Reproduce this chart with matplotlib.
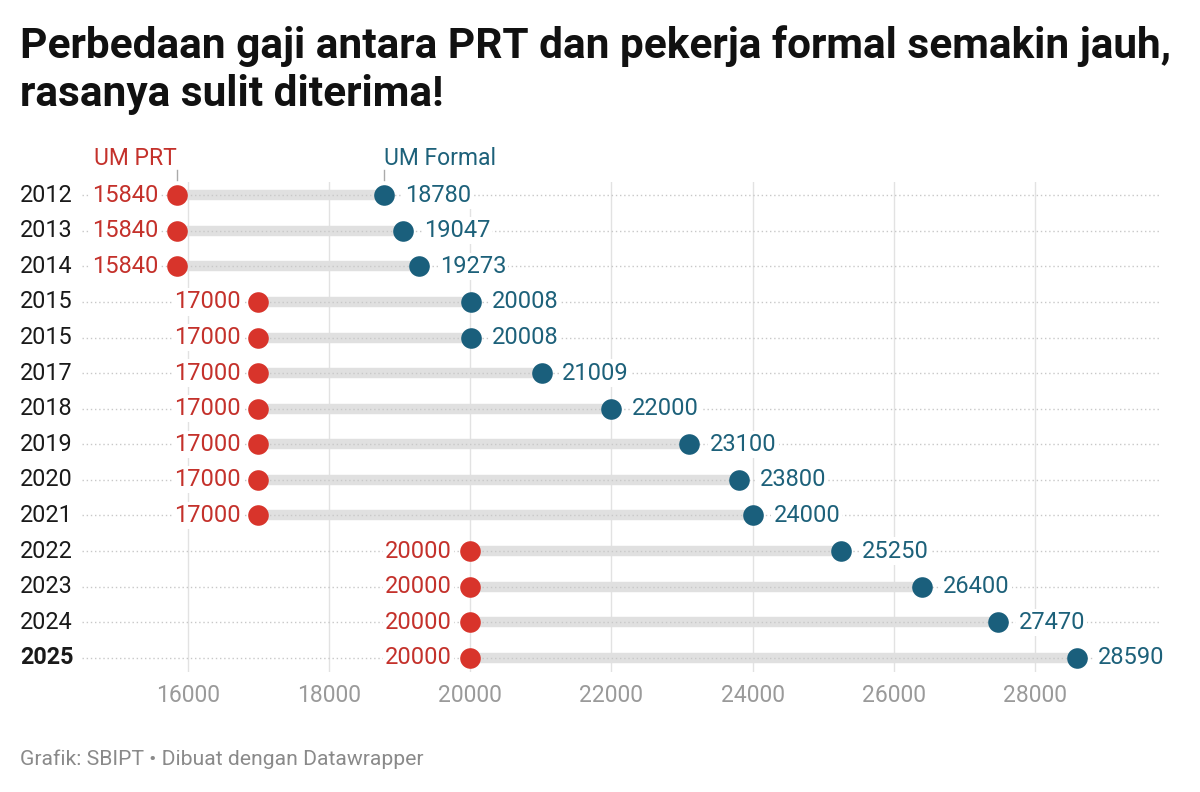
import matplotlib.pyplot as plt
from matplotlib.transforms import blended_transform_factory

plt.rcParams['font.family'] = ['Roboto', 'DejaVu Sans']

# data
years = ['2012', '2013', '2014', '2015', '2015', '2017', '2018',
         '2019', '2020', '2021', '2022', '2023', '2024', '2025']
um_prt = [15840, 15840, 15840, 17000, 17000, 17000, 17000,
          17000, 17000, 17000, 20000, 20000, 20000, 20000]
um_formal = [18780, 19047, 19273, 20008, 20008, 21009, 22000,
             23100, 23800, 24000, 25250, 26400, 27470, 28590]
xticks = [16000, 18000, 20000, 22000, 24000, 26000, 28000]

red = '#d8342b'
red_txt = '#c4312b'
blue = '#1a5f7c'
blue_txt = '#1d617a'

fig = plt.figure(figsize=(12, 7.92), dpi=100)
ax = fig.add_axes([82 / 1200, 1 - 672 / 792, (1160 - 82) / 1200, (672 - 182) / 792])
ax.set_xlim(14500, 29770)
ax.set_ylim(13.4, -0.37)
for s in ax.spines.values():
    s.set_visible(False)
ax.set_yticks([])
ax.set_xticks(xticks)
ax.set_xticklabels([str(t) for t in xticks], color='#9a9a9a', fontsize=16.5)
ax.tick_params(axis='x', length=0, pad=9)
for t in xticks:
    ax.axvline(t, color='#e2e2e2', lw=1, zorder=0)

rows = range(len(years))
for i in rows:
    ax.plot([um_prt[i], um_formal[i]], [i, i], color='#e0e0e0', lw=7.5,
            solid_capstyle='butt', zorder=1)
    ax.plot([14500, 29770], [i, i], color='#c8c8c8', lw=1, ls=(0, (1, 2)), zorder=1.5)

ax.scatter(um_prt, list(rows), s=220, color=red, zorder=4, linewidths=0)
ax.scatter(um_formal, list(rows), s=220, color=blue, zorder=4, linewidths=0)

halo = dict(facecolor='white', edgecolor='none', pad=1.5)
for i in rows:
    ax.annotate(str(um_prt[i]), (um_prt[i], i), xytext=(-13, 0), textcoords='offset points',
                ha='right', va='center', color=red_txt, fontsize=17, bbox=halo, zorder=3)
    ax.annotate(str(um_formal[i]), (um_formal[i], i), xytext=(15, 0), textcoords='offset points',
                ha='left', va='center', color=blue_txt, fontsize=17, bbox=halo, zorder=3)

# year labels on the left
tr = blended_transform_factory(fig.transFigure, ax.transData)
for i, y in enumerate(years):
    ax.text(20 / 1200, i, y, transform=tr, ha='left', va='center', fontsize=16.8,
            color='#1a1a1a', fontweight='bold' if y == '2025' else 'normal')

# series headers
ax.plot([um_prt[0]] * 2, [-0.70, -0.42], color='#aaaaaa', lw=1, clip_on=False)
ax.plot([um_formal[0]] * 2, [-0.70, -0.42], color='#aaaaaa', lw=1, clip_on=False)
ax.text(um_prt[0], -1.04, 'UM PRT', ha='right', va='center', color=red_txt, fontsize=16.5)
ax.text(um_formal[0], -1.04, 'UM Formal', ha='left', va='center', color=blue_txt, fontsize=16.5)

fig.text(20 / 1200, 1 - 58 / 792, 'Perbedaan gaji antara PRT dan pekerja formal semakin jauh,',
         ha='left', va='baseline', fontsize=30.5, fontweight='bold', color='#111111')
fig.text(20 / 1200, 1 - 106 / 792, 'rasanya sulit diterima!',
         ha='left', va='baseline', fontsize=30.5, fontweight='bold', color='#111111')
fig.text(20 / 1200, 1 - 765 / 792, 'Grafik: SBIPT \u2022 Dibuat dengan Datawrapper',
         ha='left', va='baseline', fontsize=15.2, color='#8a8a8a')

fig.savefig('out.png', dpi=100, facecolor='white')
